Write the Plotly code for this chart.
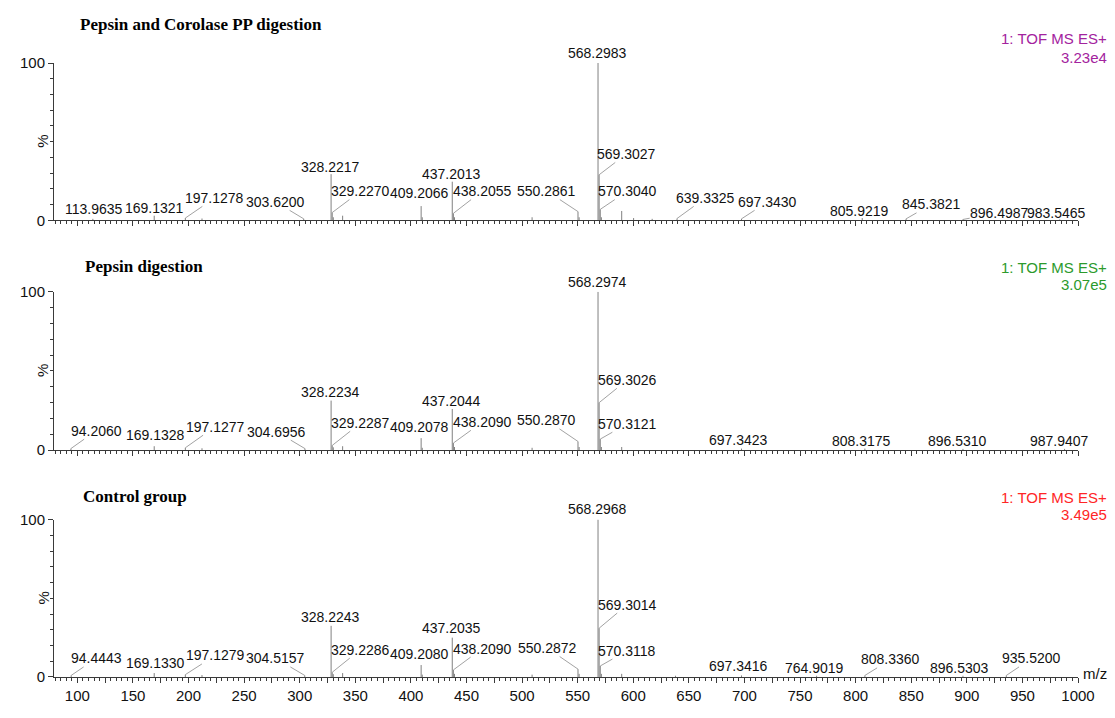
import plotly.graph_objects as go
from plotly.subplots import make_subplots

# The page places the figure 8px in from the top-left corner (body margin),
# so all screen pixel positions below are converted with that offset.
OFF = 8
W, H = 1105, 708
ML, MR, MT, MB = 35, 35, 55, 25
PW, PH = W - ML - MR, H - MT - MB


def px_x(px):
    return (px - OFF - ML) / PW


def px_y(py):
    return (H - MB - (py - OFF)) / PH


# ---------------- data ----------------
titles = ["Pepsin and Corolase PP digestion", "Pepsin digestion", "Control group"]
tof_text = "1: TOF MS ES+"
tof_values = ["3.23e4", "3.07e5", "3.49e5"]
tof_colors = ["#a3239e", "#2c9a2c", "#ff2626"]

# Panel 1: Pepsin and Corolase PP digestion (labelled peaks)
p1_mz = [113.9635, 169.1321, 197.1278, 303.6200, 328.2217, 329.2270, 409.2066,
         437.2013, 438.2055, 550.2861, 568.2983, 569.3027, 570.3040, 639.3325,
         697.3430, 805.9219, 845.3821, 896.4987, 983.5465]
p1_int = [1.0, 3.0, 1.5, 1.0, 29.4, 5.0, 9.1, 24.6, 4.5, 5.6, 100.0, 29.0, 7.0,
          1.2, 1.0, 1.5, 1.0, 0.6, 0.6]
p1_minor_mz = [212.1, 330.2, 338.6, 410.2, 439.2, 509.0, 551.3, 571.3, 589.6, 600.3, 617.0]
p1_minor_int = [1.2, 2.0, 3.0, 2.0, 2.0, 2.0, 2.0, 2.0, 6.0, 1.5, 1.0]

# Panel 2: Pepsin digestion
p2_mz = [94.2060, 169.1328, 197.1277, 304.6956, 328.2234, 329.2287, 409.2078,
         437.2044, 438.2090, 550.2870, 568.2974, 569.3026, 570.3121, 697.3423,
         808.3175, 896.5310, 987.9407]
p2_int = [1.0, 2.5, 1.5, 1.0, 31.3, 3.0, 7.6, 26.0, 4.5, 5.5, 100.0, 30.0, 7.0,
          1.0, 1.0, 0.8, 0.8]
p2_minor_mz = [212.1, 330.2, 338.6, 410.2, 439.2, 509.0, 551.3, 571.3, 589.6]
p2_minor_int = [1.2, 1.8, 2.5, 1.5, 2.0, 1.5, 2.0, 2.0, 2.0]

# Panel 3: Control group
p3_mz = [94.4443, 169.1330, 197.1279, 304.5157, 328.2243, 329.2286, 409.2080,
         437.2035, 438.2090, 550.2872, 568.2968, 569.3014, 570.3118, 697.3416,
         764.9019, 808.3360, 896.5303, 935.5200]
p3_int = [1.0, 2.5, 1.5, 1.0, 32.5, 3.0, 7.6, 25.0, 4.5, 5.0, 100.0, 31.0, 7.0,
          1.0, 0.8, 1.0, 0.8, 1.0]
p3_minor_mz = [212.1, 330.2, 338.6, 410.2, 439.2, 509.0, 551.3, 571.3, 589.6, 638.0]
p3_minor_int = [1.2, 1.8, 2.5, 1.5, 2.0, 1.5, 2.0, 2.0, 2.0, 0.8]

# label placement (layout): centre of each label in m/z and % units
p1_lab_x = [115.0, 169.4, 223.6, 278.2, 328.0, 354.9, 408.0, 436.4, 464.0, 522.4,
            568.0, 593.8, 594.7, 664.9, 720.9, 803.2, 868.1, 929.6, 981.0]
p1_lab_y = [7.1, 8.1, 14.3, 11.8, 34.2, 18.6, 17.1, 29.8, 18.6, 18.6, 106.2, 42.2,
            18.6, 14.3, 11.8, 6.2, 10.2, 5.0, 5.0]
p1_leader = [False, False, True, True, False, True, False, False, True, True,
             False, True, True, True, True, False, True, True, False]

p2_lab_x = [116.9, 170.0, 223.9, 279.1, 328.0, 355.1, 408.0, 436.4, 464.5, 522.4,
            568.0, 594.7, 594.7, 695.0, 805.5, 891.7, 983.7]
p2_lab_y = [12.3, 9.3, 14.8, 11.7, 37.0, 17.3, 14.8, 30.9, 17.9, 18.8, 106.2, 44.4,
            16.7, 6.2, 5.6, 5.6, 5.6]
p2_leader = [True, False, True, True, False, True, False, False, True, True,
             False, True, True, False, False, False, False]

p3_lab_x = [116.9, 170.0, 223.9, 278.6, 328.0, 354.6, 408.0, 436.4, 464.0, 522.7,
            568.0, 594.7, 594.7, 695.0, 763.2, 831.7, 893.5, 958.4]
p3_lab_y = [11.8, 8.7, 13.7, 11.8, 38.0, 17.4, 14.9, 31.1, 18.0, 18.4, 106.4, 46.0,
            16.8, 6.7, 5.6, 11.2, 5.6, 11.8]
p3_leader = [True, False, True, True, False, True, False, False, True, True,
             False, True, True, False, False, True, False, True]

x_ticks = list(range(100, 1001, 25))

panels = [
    (p1_mz, p1_int, p1_minor_mz, p1_minor_int, p1_lab_x, p1_lab_y, p1_leader),
    (p2_mz, p2_int, p2_minor_mz, p2_minor_int, p2_lab_x, p2_lab_y, p2_leader),
    (p3_mz, p3_int, p3_minor_mz, p3_minor_int, p3_lab_x, p3_lab_y, p3_leader),
]

# ---------------- layout geometry (screen pixels) ----------------
panel_px = [(63, 224), (297, 459), (530, 691)]   # (y of 100%, y of 0%)
title_px = [(67, 24), (72, 271), (70, 506)]
tof_px = [(38, 57), (272, 290), (507, 525)]

FONT = "Liberation Sans, Arial, sans-serif"
AXC = "#3a3a3a"
STICK = "#808080"

fig = make_subplots(rows=3, cols=1, shared_xaxes=False, vertical_spacing=0.05)

annotations = []
for i, (mz, it, mmz, mit, lx, ly, lead) in enumerate(panels):
    r = i + 1
    top, bot = panel_px[i]
    ppp = (bot - top) / 100.0
    xs, ys = [], []
    for m, v in zip(list(mz) + list(mmz), list(it) + list(mit)):
        xs += [m, m, None]
        ys += [0, v, None]
    fig.add_trace(go.Scatter(x=xs, y=ys, mode="lines",
                             line=dict(color=STICK, width=1),
                             hoverinfo="skip", showlegend=False), row=r, col=1)
    xr = "x" if r == 1 else f"x{r}"
    yr = "y" if r == 1 else f"y{r}"
    for m, v, tx, ty, ld in zip(mz, it, lx, ly, lead):
        label = f"{m:.4f}"
        if ld:
            annotations.append(dict(
                x=m, y=v, xref=xr, yref=yr, ax=tx, ay=ty, axref=xr, ayref=yr,
                text=label, showarrow=True, arrowhead=0, arrowwidth=0.8,
                arrowcolor="#8a8a8a", standoff=0, startstandoff=0,
                font=dict(family=FONT, size=14, color="#111111"), borderpad=0))
        else:
            yy, shift = (ty, 0) if ty <= 100 else (100, (ty - 100) * ppp)
            annotations.append(dict(
                x=tx, y=yy, yshift=shift, xref=xr, yref=yr, text=label,
                showarrow=False, xanchor="center", yanchor="middle",
                font=dict(family=FONT, size=14, color="#111111")))
    # panel title
    tx, ty = title_px[i]
    annotations.append(dict(
        x=px_x(tx), y=px_y(ty), xref="paper", yref="paper", text=f"<b>{titles[i]}</b>",
        showarrow=False, xanchor="left", yanchor="middle",
        font=dict(family="Liberation Serif, Times New Roman, serif", size=17, color="#000")))
    # instrument info
    y1, y2 = tof_px[i]
    annotations.append(dict(
        x=px_x(1109), y=px_y(y1), xref="paper", yref="paper", text=tof_text,
        showarrow=False, xanchor="right", yanchor="middle",
        font=dict(family=FONT, size=15, color=tof_colors[i])))
    annotations.append(dict(
        x=px_x(1109), y=px_y(y2), xref="paper", yref="paper", text=tof_values[i],
        showarrow=False, xanchor="right", yanchor="middle",
        font=dict(family=FONT, size=15, color=tof_colors[i])))
    # % axis title
    annotations.append(dict(
        x=px_x(32), y=px_y((top + bot) / 2), xref="paper", yref="paper", text="%",
        showarrow=False, textangle=-90, xanchor="center", yanchor="middle",
        font=dict(family=FONT, size=15, color="#111")))

    dom = [px_y(bot), px_y(top)]
    fig.update_yaxes(row=r, col=1, domain=dom, range=[0, 100],
                     tickvals=[0, 100], ticktext=["0", "100"], ticks="outside",
                     ticklen=5, tickcolor=AXC, showline=True, linecolor=AXC,
                     linewidth=1, showgrid=False, zeroline=False,
                     tickfont=dict(family=FONT, size=15, color="#111"),
                     minor=dict(dtick=10, ticks="outside", ticklen=3, tickcolor=AXC))
    fig.update_xaxes(row=r, col=1, range=[79, 1000], tickvals=x_ticks,
                     ticktext=[str(v) if v % 50 == 0 else "" for v in x_ticks],
                     showticklabels=(r == 3), ticks="outside", ticklen=5,
                     tickcolor=AXC, showline=True, linecolor=AXC, linewidth=1,
                     showgrid=False, zeroline=False,
                     tickfont=dict(family=FONT, size=15, color="#111"),
                     minor=dict(dtick=5, ticks="outside", ticklen=2.5, tickcolor=AXC))

annotations.append(dict(
    x=px_x(1081), y=px_y(687), xref="paper", yref="paper", text="m/z",
    showarrow=False, xanchor="left", yanchor="middle",
    font=dict(family=FONT, size=15, color="#111")))

fig.update_layout(width=W, height=H, margin=dict(l=ML, r=MR, t=MT, b=MB),
                  paper_bgcolor="white", plot_bgcolor="white",
                  annotations=annotations, showlegend=False)

fig.write_html("out.html")
